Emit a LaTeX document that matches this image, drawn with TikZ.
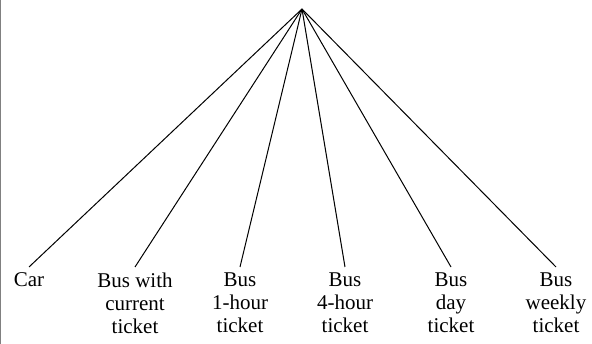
\documentclass[tikz,border=0pt]{standalone}
\usepackage{fontspec}
\setmainfont{Liberation Serif}
\usepackage{tikz}

\begin{document}
\begin{tikzpicture}[x=1pt,y=-1pt,line width=1pt,
  leaf/.style={align=center,anchor=north,inner xsep=0pt,inner ysep=5pt,font=\fontsize{21}{23}\selectfont}]
  \useasboundingbox (0,0) rectangle (592,344);
  \draw[gray] (0.5,0) -- (0.5,344);
  \coordinate (root) at (302,9);
  \node[leaf] at (29,267) (car) {Car};
  \node[leaf] at (135,267) (current) {Bus with\\current\\ticket};
  \node[leaf] at (240,267) (hour1) {Bus\\1-hour\\ticket};
  \node[leaf] at (345,267) (hour4) {Bus\\4-hour\\ticket};
  \node[leaf] at (451,267) (day) {Bus\\day\\ticket};
  \node[leaf] at (556,267) (weekly) {Bus\\weekly\\ticket};
  \draw (root) -- (car.north);
  \draw (root) -- (current.north);
  \draw (root) -- (hour1.north);
  \draw (root) -- (hour4.north);
  \draw (root) -- (day.north);
  \draw (root) -- (weekly.north);
\end{tikzpicture}
\end{document}
